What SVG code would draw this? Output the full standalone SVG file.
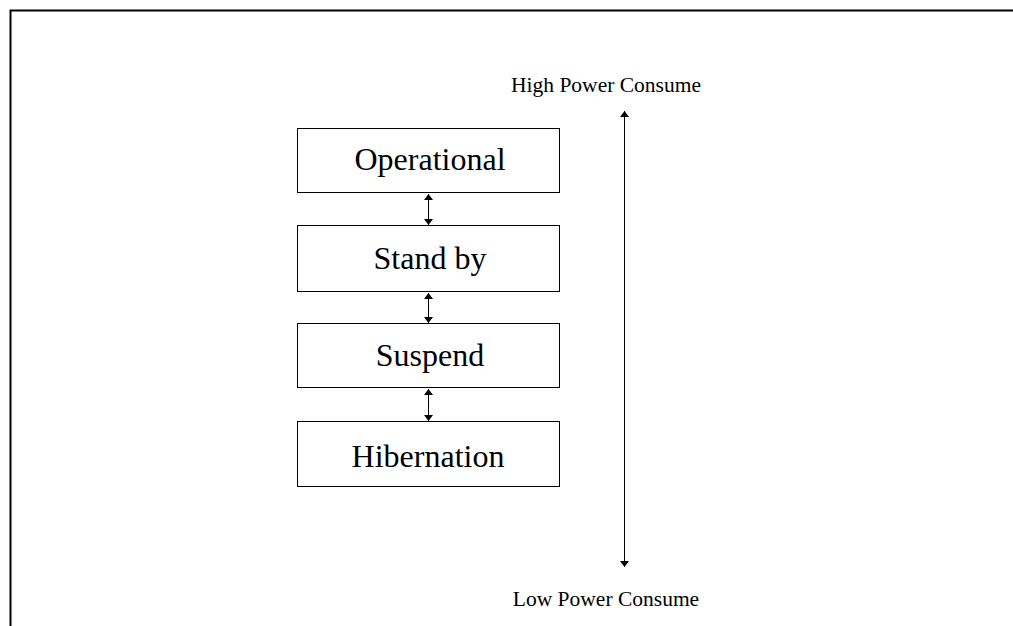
<svg xmlns="http://www.w3.org/2000/svg" width="1013" height="626" viewBox="0 0 1013 626">
<style>
.box{fill:#fff;stroke:#000;stroke-width:1}
.lbl{font-family:"Liberation Serif",serif;font-size:32px;fill:#000;text-anchor:middle}
.side{font-family:"Liberation Serif",serif;font-size:21.5px;fill:#000;text-anchor:middle}
.conn{stroke:#000;stroke-width:1;fill:none}
</style>
<defs>
<marker id="ah" viewBox="0 0 6 9" refX="6" refY="4.5" markerWidth="6" markerHeight="9" markerUnits="userSpaceOnUse" orient="auto-start-reverse">
<path d="M0,0 L6,4.5 L0,9 Z" fill="#000"/>
</marker>
</defs>
<rect width="1013" height="626" fill="#fff"/>
<path d="M10.5,626 V10.5 H1013" stroke="#000" stroke-width="2" fill="none"/>
<g id="operational"><rect class="box" x="297.5" y="128.5" width="262" height="64"/><text class="lbl" x="430" y="170">Operational</text></g>
<g id="standby"><rect class="box" x="297.5" y="225.5" width="262" height="66"/><text class="lbl" x="430" y="269">Stand by</text></g>
<g id="suspend"><rect class="box" x="297.5" y="323.5" width="262" height="64"/><text class="lbl" x="430" y="366">Suspend</text></g>
<g id="hibernation"><rect class="box" x="297.5" y="421.5" width="262" height="65"/><text class="lbl" x="428" y="467">Hibernation</text></g>
<g id="high"><text class="side" x="606" y="92">High Power Consume</text></g>
<g id="low"><text class="side" x="606" y="606">Low Power Consume</text></g>
<g id="connectors">
<line class="conn" x1="428.5" y1="194" x2="428.5" y2="225" marker-start="url(#ah)" marker-end="url(#ah)"/>
<line class="conn" x1="428.5" y1="293" x2="428.5" y2="323" marker-start="url(#ah)" marker-end="url(#ah)"/>
<line class="conn" x1="428.5" y1="389" x2="428.5" y2="421" marker-start="url(#ah)" marker-end="url(#ah)"/>
<line class="conn" x1="624.5" y1="111" x2="624.5" y2="567" marker-start="url(#ah)" marker-end="url(#ah)"/>
</g>
</svg>
